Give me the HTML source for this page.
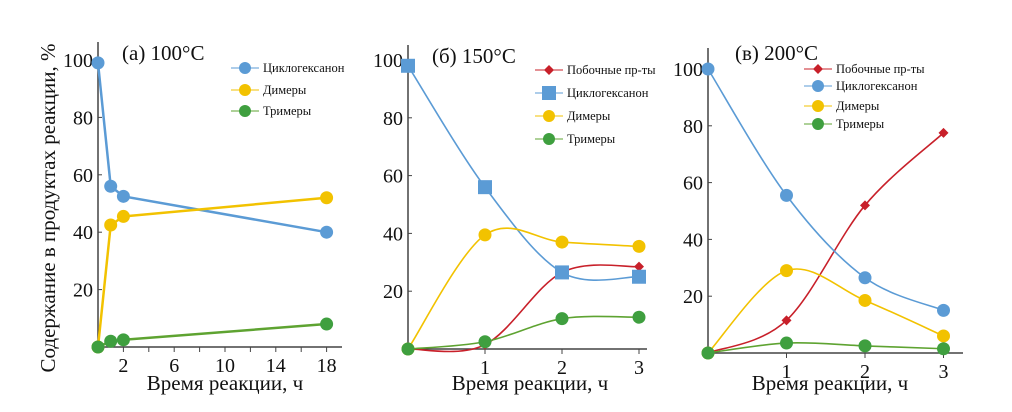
<!DOCTYPE html>
<html><head><meta charset="utf-8"><style>
body{margin:0;background:#fff}
svg text{font-family:"Liberation Serif",serif;fill:#111}
</style></head><body>
<svg id="c" width="1012" height="407" xmlns="http://www.w3.org/2000/svg">
<text transform="translate(55,208) rotate(-90)" text-anchor="middle" font-size="21">Содержание в продуктах реакции, %</text>
</svg>
<script>
// Panel A data
const timeA=[0,1,2,18];
const cycloA=[99,56,52.5,40];
const dimA=[0,42.5,45.5,52];
const triA=[0,2,2.5,8];
const xTicksA=[2,6,10,14,18];
// Panel B data
const timeB=[0,1,2,3];
const byB=[0,1.5,26.5,28.5];
const cycloB=[98,56,26.5,25];
const dimB=[0,39.5,37,35.5];
const triB=[0,2.5,10.5,11];
// Panel C data
const timeC=[0,1,2,3];
const byC=[0,11.5,52,77.5];
const cycloC=[100,55.5,26.5,15];
const dimC=[0,29,18.5,6];
const triC=[0,3.5,2.5,1.5];
const xTicksBC=[1,2,3];
const yTicks=[20,40,60,80,100];

const svg=document.getElementById('c');
const NS='http://www.w3.org/2000/svg';
const C={blue:'#5b9bd5',yel:'#f2c200',grn:'#5ea331',grnM:'#3f9f3f',red:'#c8202a'};
function mk(t,a,p){const e=document.createElementNS(NS,t);for(const k in a)e.setAttribute(k,a[k]);(p||svg).appendChild(e);return e;}
function smooth(pts){let d='M'+pts[0][0]+','+pts[0][1];for(let i=0;i<pts.length-1;i++){const p0=pts[i-1]||pts[i],p1=pts[i],p2=pts[i+1],p3=pts[i+2]||p2;const c1=[p1[0]+(p2[0]-p0[0])/6,p1[1]+(p2[1]-p0[1])/6],c2=[p2[0]-(p3[0]-p1[0])/6,p2[1]-(p3[1]-p1[1])/6];d+=' C'+c1+' '+c2+' '+p2;}return d;}
function panel(cfg){
  const g=mk('g',{});
  
  
  const X=v=>cfg.x0+v*cfg.sx, Y=v=>cfg.y0-v*cfg.sy;
  const ax=mk('path',{d:`M${cfg.x0},${cfg.top} V${cfg.y0} H${cfg.xEnd}`,stroke:'#444','stroke-width':1.5,fill:'none'},g);
  
  
  yTicks.forEach(v=>{mk('line',{x1:cfg.x0,x2:cfg.x0+4,y1:Y(v),y2:Y(v),stroke:'#444'},g);
    const t=mk('text',{x:cfg.x0-5,y:Y(v)+7,'text-anchor':'end','font-size':20},g);t.textContent=v;
    
    });
  cfg.minor.forEach(v=>mk('line',{x1:X(v),x2:X(v),y1:cfg.y0,y2:cfg.y0+5,stroke:'#444'},g));
  cfg.xt.forEach(v=>{const t=mk('text',{x:X(v),y:cfg.y0+25,'text-anchor':'middle','font-size':20},g);t.textContent=v;
    
    });
  const xt=mk('text',{x:cfg.xtitle,y:390,'text-anchor':'middle','font-size':21},g);xt.textContent='Время реакции, ч';
  
  
  const tt=mk('text',{x:cfg.tx,y:cfg.ty,'font-size':21},g);tt.textContent=cfg.title;
  
  
  cfg.series.forEach((s,si)=>{
    const pts=s.v.map((v,i)=>[X(cfg.t[i]),Y(v)]);
    const d=cfg.curve?smooth(pts):'M'+pts.join(' L');
    const ln=mk('path',{d,stroke:s.c,'stroke-width':cfg.curve?1.6:2.5,fill:'none'},g);
    
    
    pts.forEach(p=>{let m;
      if(s.m==='sq')m=mk('rect',{x:p[0]-7,y:p[1]-7,width:14,height:14,fill:s.mc||s.c},g);
      else if(s.m==='dia')m=mk('path',{d:`M${p[0]},${p[1]-5} l5,5 l-5,5 l-5,-5z`,fill:s.mc||s.c},g);
      else m=mk('circle',{cx:p[0],cy:p[1],r:6.5,fill:s.mc||s.c},g);
      
      });
    const ly=cfg.ly[si];
    const lg=mk('g',{},g);
    
    
    mk('line',{x1:cfg.lx-14,x2:cfg.lx+14,y1:ly,y2:ly,stroke:s.c,'stroke-width':1},lg);
    if(s.m==='sq')mk('rect',{x:cfg.lx-7,y:ly-7,width:14,height:14,fill:s.mc||s.c},lg);
    else if(s.m==='dia')mk('path',{d:`M${cfg.lx},${ly-5} l5,5 l-5,5 l-5,-5z`,fill:s.mc||s.c},lg);
    else mk('circle',{cx:cfg.lx,cy:ly,r:6,fill:s.mc||s.c},lg);
    const lt=mk('text',{x:cfg.lx+18,y:ly+4,'font-size':12.5},lg);lt.textContent=s.label;
  });
}
panel({name:'panel-a',x0:98,sx:12.7,y0:347,sy:2.87,top:42,xEnd:342,t:timeA,xt:xTicksA,minor:[2,4,6,8,10,12,14,16,18],curve:false,
  title:'(a) 100°C',tx:122,ty:60,xtitle:225,lx:245,ly:[68,90,111],
  series:[{id:'cyclohexanone',v:cycloA,c:C.blue,label:'Циклогексанон'},{id:'dimers',v:dimA,c:C.yel,label:'Димеры'},{id:'trimers',v:triA,c:C.grn,mc:C.grnM,label:'Тримеры'}]});
panel({name:'panel-b',x0:408,sx:77,y0:349,sy:2.89,top:45,xEnd:647,t:timeB,xt:xTicksBC,minor:[1,2,3],curve:true,
  title:'(б) 150°C',tx:432,ty:63,xtitle:530,lx:549,ly:[70,93,116,139],
  series:[{id:'by-products',v:byB,c:C.red,m:'dia',label:'Побочные пр-ты'},{id:'cyclohexanone',v:cycloB,c:C.blue,m:'sq',label:'Циклогексанон'},{id:'dimers',v:dimB,c:C.yel,label:'Димеры'},{id:'trimers',v:triB,c:C.grn,mc:C.grnM,label:'Тримеры'}]});
panel({name:'panel-c',x0:708,sx:78.5,y0:353,sy:2.84,top:48,xEnd:963,t:timeC,xt:xTicksBC,minor:[1,2,3],curve:true,
  title:'(в) 200°C',tx:735,ty:60,xtitle:830,lx:818,ly:[69,86,106,124],
  series:[{id:'by-products',v:byC,c:C.red,m:'dia',label:'Побочные пр-ты'},{id:'cyclohexanone',v:cycloC,c:C.blue,label:'Циклогексанон'},{id:'dimers',v:dimC,c:C.yel,label:'Димеры'},{id:'trimers',v:triC,c:C.grn,mc:C.grnM,label:'Тримеры'}]});
</script>
</body></html>
